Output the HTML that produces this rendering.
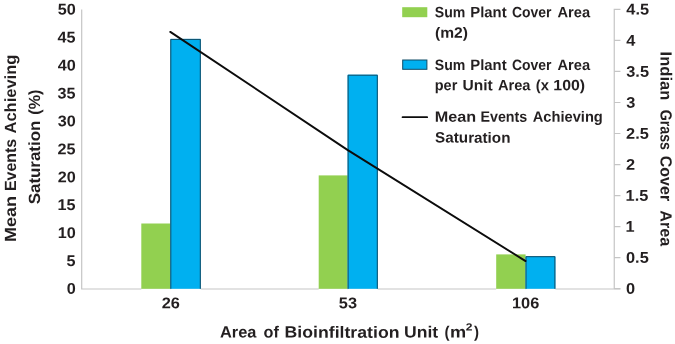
<!DOCTYPE html>
<html lang="en">
<head>
<meta charset="utf-8">
<title>Chart</title>
<style>
html,body{margin:0;padding:0;background:#fff;}
body{width:675px;height:344px;overflow:hidden;}
svg{display:block;will-change:transform;}
svg text{font-family:"Liberation Sans", Arial, sans-serif;font-weight:bold;fill:#231f20;}
</style>
</head>
<body>
<svg width="675" height="344" viewBox="0 0 675 344">
<rect width="675" height="344" fill="#ffffff"/>
<path d="M81.7 9.4 V289.0 H620.45" fill="none" stroke="#c5c5c5" stroke-width="1.2"/>
<path d="M614.25 8.8 V289.0 M614.25 9.40 h6.2 M614.25 40.43 h6.2 M614.25 71.46 h6.2 M614.25 102.48 h6.2 M614.25 133.51 h6.2 M614.25 164.54 h6.2 M614.25 195.57 h6.2 M614.25 226.59 h6.2 M614.25 257.62 h6.2 M614.25 288.65 h6.2" fill="none" stroke="#c5c5c5" stroke-width="1.2"/>
<rect x="141.30" y="288.80" width="29.10" height="1.6" fill="#fff"/>
<rect x="141.30" y="223.50" width="29.10" height="65.30" fill="#92d050"/>
<rect x="170.30" y="288.80" width="30.50" height="1.6" fill="#fff"/>
<rect x="170.30" y="38.90" width="30.50" height="249.90" fill="#00b0f0"/>
<path d="M170.80 288.80 V39.40 H200.30 V288.80" fill="none" stroke="#104c66" stroke-width="1"/>
<rect x="318.70" y="288.80" width="29.00" height="1.6" fill="#fff"/>
<rect x="318.70" y="175.40" width="29.00" height="113.40" fill="#92d050"/>
<rect x="347.60" y="288.80" width="30.20" height="1.6" fill="#fff"/>
<rect x="347.60" y="74.70" width="30.20" height="214.10" fill="#00b0f0"/>
<path d="M348.10 288.80 V75.20 H377.30 V288.80" fill="none" stroke="#104c66" stroke-width="1"/>
<rect x="496.20" y="288.80" width="29.40" height="1.6" fill="#fff"/>
<rect x="496.20" y="254.40" width="29.40" height="34.40" fill="#92d050"/>
<rect x="525.50" y="288.80" width="29.90" height="1.6" fill="#fff"/>
<rect x="525.50" y="256.20" width="29.90" height="32.60" fill="#00b0f0"/>
<path d="M526.00 288.80 V256.70 H554.90 V288.80" fill="none" stroke="#104c66" stroke-width="1"/>
<polyline points="170.3,31.9 347.8,150.1 525.6,261.1" fill="none" stroke="#0c0c0c" stroke-width="1.9" stroke-linejoin="round" stroke-linecap="round"/>
<text transform="translate(57.67 14.60) rotate(0.05) scale(1.0450 1)" font-size="15.5">50</text>
<text transform="translate(57.51 42.53) rotate(0.05) scale(1.0450 1)" font-size="15.5">45</text>
<text transform="translate(57.67 70.45) rotate(0.05) scale(1.0450 1)" font-size="15.5">40</text>
<text transform="translate(57.51 98.38) rotate(0.05) scale(1.0450 1)" font-size="15.5">35</text>
<text transform="translate(57.67 126.30) rotate(0.05) scale(1.0450 1)" font-size="15.5">30</text>
<text transform="translate(57.51 154.22) rotate(0.05) scale(1.0450 1)" font-size="15.5">25</text>
<text transform="translate(57.67 182.15) rotate(0.05) scale(1.0450 1)" font-size="15.5">20</text>
<text transform="translate(57.51 210.07) rotate(0.05) scale(1.0450 1)" font-size="15.5">15</text>
<text transform="translate(57.67 238.00) rotate(0.05) scale(1.0450 1)" font-size="15.5">10</text>
<text transform="translate(66.52 265.92) rotate(0.05) scale(1.0450 1)" font-size="15.5">5</text>
<text transform="translate(66.68 293.85) rotate(0.05) scale(1.0450 1)" font-size="15.5">0</text>
<text transform="translate(626.35 14.60) rotate(0.05) scale(1.0550 1)" font-size="15.5">4.5</text>
<text transform="translate(626.35 45.63) rotate(0.05) scale(1.0550 1)" font-size="15.5">4</text>
<text transform="translate(626.27 76.66) rotate(0.05) scale(1.0550 1)" font-size="15.5">3.5</text>
<text transform="translate(626.27 107.68) rotate(0.05) scale(1.0550 1)" font-size="15.5">3</text>
<text transform="translate(626.11 138.71) rotate(0.05) scale(1.0550 1)" font-size="15.5">2.5</text>
<text transform="translate(626.11 169.74) rotate(0.05) scale(1.0550 1)" font-size="15.5">2</text>
<text transform="translate(625.62 200.77) rotate(0.05) scale(1.0550 1)" font-size="15.5">1.5</text>
<text transform="translate(625.62 231.79) rotate(0.05) scale(1.0550 1)" font-size="15.5">1</text>
<text transform="translate(626.03 262.82) rotate(0.05) scale(1.0550 1)" font-size="15.5">0.5</text>
<text transform="translate(626.03 293.85) rotate(0.05) scale(1.0550 1)" font-size="15.5">0</text>
<text transform="translate(161.66 308.30) rotate(0.05) scale(1.0550 1)" font-size="15.5">26</text>
<text transform="translate(338.86 308.30) rotate(0.05) scale(1.0550 1)" font-size="15.5">53</text>
<text transform="translate(511.96 308.30) rotate(0.05) scale(1.0550 1)" font-size="15.5">106</text>
<rect x="402.2" y="7.2" width="25.1" height="10" fill="#92d050"/>
<rect x="402.7" y="60.0" width="24.2" height="9.3" fill="#00b0f0" stroke="#104c66" stroke-width="1"/>
<path d="M402.6 117.15 H427.1" stroke="#0c0c0c" stroke-width="1.9" stroke-linecap="round"/>
<text transform="translate(434.85 17.30) rotate(0.05) scale(0.9410 1.0)" font-size="15.0">Sum</text>
<text transform="translate(470.34 17.30) rotate(0.05) scale(0.9894 1.0)" font-size="15.0">Plant</text>
<text transform="translate(512.04 17.30) rotate(0.05) scale(0.9304 1.0)" font-size="15.0">Cover</text>
<text transform="translate(557.41 17.30) rotate(0.05) scale(0.9793 1.0)" font-size="15.0">Area</text>
<text transform="translate(434.85 69.90) rotate(0.05) scale(0.9410 1.0)" font-size="15.0">Sum</text>
<text transform="translate(470.34 69.90) rotate(0.05) scale(0.9894 1.0)" font-size="15.0">Plant</text>
<text transform="translate(512.04 69.90) rotate(0.05) scale(0.9304 1.0)" font-size="15.0">Cover</text>
<text transform="translate(557.41 69.90) rotate(0.05) scale(0.9793 1.0)" font-size="15.0">Area</text>
<text transform="translate(435.00 37.80) rotate(0.05) scale(1.0405 1.0)" font-size="15.0">(m2)</text>
<text transform="translate(434.76 90.30) rotate(0.05) scale(0.9659 1.0)" font-size="15.0">per</text>
<text transform="translate(462.47 90.30) rotate(0.05) scale(1.0378 1.0)" font-size="15.0">Unit</text>
<text transform="translate(497.91 90.30) rotate(0.05) scale(0.9763 1.0)" font-size="15.0">Area</text>
<text transform="translate(535.83 90.30) rotate(0.05) scale(0.9865 1.0)" font-size="15.0">(x</text>
<text transform="translate(553.35 90.30) rotate(0.05) scale(1.0598 1.0)" font-size="15.0">100)</text>
<text transform="translate(434.65 121.80) rotate(0.05) scale(1.0808 1.0)" font-size="15.0">Mean</text>
<text transform="translate(480.47 121.80) rotate(0.05) scale(0.9502 1.0)" font-size="15.0">Events</text>
<text transform="translate(532.71 121.80) rotate(0.05) scale(0.9788 1.0)" font-size="15.0">Achieving</text>
<text transform="translate(435.12 142.60) rotate(0.05) scale(1.0167 1.0)" font-size="15.0">Saturation</text>
<text transform="translate(219.97 337.60) rotate(0.05) scale(1.0128 1.0)" font-size="16.2">Area</text>
<text transform="translate(263.53 337.60) rotate(0.05) scale(1.0030 1.0)" font-size="16.2">of</text>
<text transform="translate(284.55 337.60) rotate(0.05) scale(1.0925 1.0)" font-size="16.2">Bioinfiltration</text>
<text transform="translate(404.04 337.60) rotate(0.05) scale(1.0859 1.0)" font-size="16.2">Unit</text>
<text transform="translate(444.52 337.60) rotate(0.05) scale(0.9366 1.0)" font-size="16.2">(</text>
<text transform="translate(450.02 337.60) rotate(0.05) scale(1.1216 1.0)" font-size="16.2">m</text>
<text transform="translate(465.64 330.60) rotate(0.05) scale(1.1578 1.0)" font-size="10.4">2</text>
<text transform="translate(473.90 337.60) rotate(0.05) scale(0.9313 1.0)" font-size="16.2">)</text>
<g transform="translate(16 240.9) rotate(-90)">
<text transform="translate(-1.17 0.00) rotate(0.05) scale(1.1150 1.0)" font-size="16.2">Mean</text>
<text transform="translate(49.87 0.00) rotate(0.05) scale(0.9809 1.0)" font-size="16.2">Events</text>
<text transform="translate(107.37 0.00) rotate(0.05) scale(1.0194 1.0)" font-size="16.2">Achieving</text>
</g>
<g transform="translate(40 203.9) rotate(-90)">
<text transform="translate(-0.42 0.00) rotate(0.05) scale(1.0455 1.0)" font-size="16.2">Saturation</text>
<text transform="translate(89.17 0.00) rotate(0.05) scale(1.0005 1.0)" font-size="16.2">(%)</text>
</g>
<g transform="translate(660.5 52.6) rotate(90)">
<text transform="translate(-1.08 0.00) rotate(0.05) scale(1.0250 1.0)" font-size="16.2">Indian</text>
<text transform="translate(57.03 0.00) rotate(0.05) scale(0.8792 1.0)" font-size="16.2">Grass</text>
<text transform="translate(103.16 0.00) rotate(0.05) scale(0.9880 1.0)" font-size="16.2">Cover</text>
<text transform="translate(157.68 0.00) rotate(0.05) scale(1.0016 1.0)" font-size="16.2">Area</text>
</g>
</svg>
</body>
</html>
